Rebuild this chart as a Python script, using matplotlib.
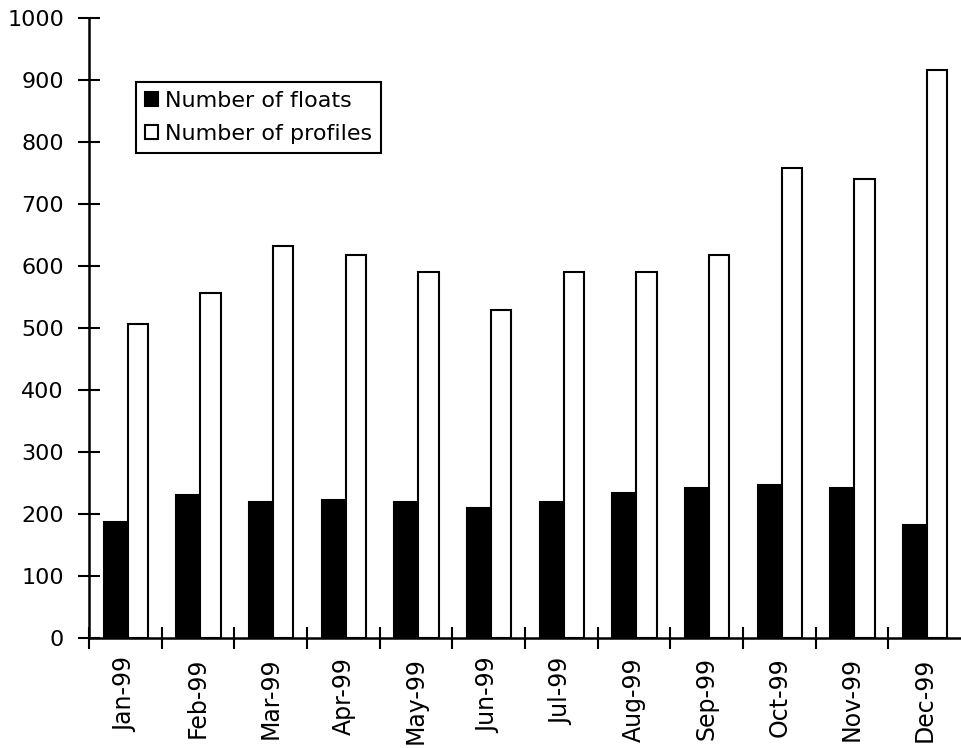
import numpy as np
import matplotlib
matplotlib.use("Agg")
import matplotlib.pyplot as plt

# values
months = ["Jan-99", "Feb-99", "Mar-99", "Apr-99", "May-99", "Jun-99",
          "Jul-99", "Aug-99", "Sep-99", "Oct-99", "Nov-99", "Dec-99"]
floats = [187, 231, 219, 223, 219, 210, 219, 234, 242, 247, 242, 182]
profiles = [506, 556, 631, 618, 590, 529, 590, 590, 618, 758, 739, 916]

plt.rcParams['font.family'] = ['DejaVu Sans']

fig = plt.figure(figsize=(9.61, 7.48), dpi=100)
ax = fig.add_axes([89 / 961, 1 - 638 / 748, 1 - 89 / 961, (638 - 17.5) / 748])

x = np.arange(len(months))
ax.bar(x + 0.2, floats, width=0.33, align='edge', color='black',
       edgecolor='black', linewidth=1.5, label='Number of floats')
ax.bar(x + 0.53, profiles, width=0.28, align='edge', color='white',
       edgecolor='black', linewidth=1.5, label='Number of profiles')

ax.set_xlim(0, len(months))
ax.set_ylim(0, 1000)

for s in ['top', 'right']:
    ax.spines[s].set_visible(False)
for s in ['left', 'bottom']:
    ax.spines[s].set_linewidth(1.8)

ax.set_yticks(range(0, 1001, 100))
ax.tick_params(axis='y', direction='inout', length=16, width=1.5,
               labelsize=16, pad=10)

# boundary ticks, labels at group centres
ax.set_xticks(x)
ax.set_xticklabels([])
ax.set_xticks(x + 0.5, minor=True)
ax.set_xticklabels(months, minor=True, rotation=90, fontsize=17)
ax.tick_params(axis='x', which='major', direction='inout', length=16, width=1.5)
ax.tick_params(axis='x', which='minor', length=0, pad=14)

leg = fig.legend(loc='upper left', bbox_to_anchor=(136 / 961, 1 - 82 / 748),
                 fontsize=16, frameon=True, fancybox=False, shadow=False,
                 handlelength=0.6, handleheight=0.6, handletextpad=0.3,
                 borderpad=0.4, labelspacing=0.6, borderaxespad=0)
leg.get_frame().set_edgecolor('black')
leg.get_frame().set_linewidth(1.5)
leg.get_frame().set_alpha(1)

fig.savefig("out.png", dpi=100)
